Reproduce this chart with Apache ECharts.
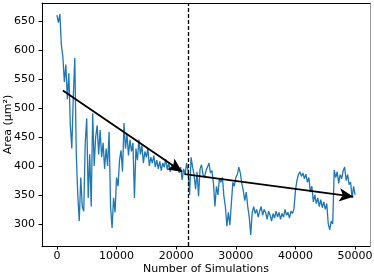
<!DOCTYPE html>
<html>
<head>
<meta charset="utf-8">
<script src="https://cdn.jsdelivr.net/npm/echarts@6/dist/echarts.min.js"></script>
<style>html,body{margin:0;padding:0;background:#fff}#c{width:374px;height:277px}</style>
</head>
<body>
<div id="c"></div>
<script>
const xStart = 0;
const xStep = 250;
const areaValues = [
660,647,662,608,588,545,575,515,560,470,
430,520,586,420,350,305,380,330,322,440,
482,345,420,330,491,400,450,470,420,462,
415,440,395,430,400,459,330,293,345,320,
380,365,410,427,390,474,430,455,418,445,
425,440,345,430,410,445,420,435,405,425,
415,430,400,415,405,418,398,410,395,408,
392,405,398,412,394,405,390,402,396,408,
392,400,388,398,376,395,385,405,392,350,
415,398,385,360,390,348,395,402,385,380,
392,398,405,388,392,370,330,365,350,378,
372,380,348,330,296,320,298,335,372,365,
380,385,398,388,370,358,340,355,330,312,
281,320,330,318,325,312,322,330,315,325,
320,308,322,315,305,318,310,322,312,320,
308,318,312,325,315,320,310,322,318,326,
358,375,385,390,382,388,378,386,372,380,
355,365,338,350,335,345,330,342,328,338,
325,335,300,290,305,300,393,380,390,370,
385,378,392,398,375,385,368,372,345,365,
350
];
const xTicks = [0, 10000, 20000, 30000, 40000, 50000];
const yTicks = [300, 350, 400, 450, 500, 550, 600, 650];
const splitX = 22000;
const arrow1 = [[1000, 530], [21000, 390]];
const arrow2 = [[21400, 386], [49700, 347]];

const seriesData = areaValues.map((v, i) => [xStart + i * xStep, v]);
const font = 'DejaVu Sans';
const chart = echarts.init(document.getElementById('c'), null, {renderer: 'canvas'});
chart.setOption({
  animation: false,
  grid: {left: 42, right: 4, top: 3, bottom: 31, containLabel: false, outerBoundsMode: 'none'},
  xAxis: [{
    type: 'value', min: -2500, max: 52500,
    name: 'Number of Simulations', nameLocation: 'middle', nameGap: 18, nameMoveOverlap: false,
    nameTextStyle: {fontFamily: font, fontSize: 11, color: '#000', verticalAlign: 'top'},
    axisLine: {show: true, onZero: false, lineStyle: {color: '#000', width: 1}},
    axisTick: {show: true, inside: false, length: 3.5, customValues: xTicks, lineStyle: {color: '#000'}},
    axisLabel: {customValues: xTicks, fontFamily: font, fontSize: 11, color: '#000', margin: 5,
      formatter: v => String(v)},
    splitLine: {show: false}
  }, {
    type: 'value', position: 'top', min: -2500, max: 52500,
    axisLine: {show: true, onZero: false, lineStyle: {color: '#000', width: 1}},
    axisTick: {show: false}, axisLabel: {show: false}, splitLine: {show: false}
  }],
  yAxis: [{
    type: 'value', min: 262, max: 681,
    name: 'Area (μm²)', nameLocation: 'middle', nameGap: 28, nameMoveOverlap: false,
    nameTextStyle: {fontFamily: font, fontSize: 11, color: '#000'},
    axisLine: {show: true, onZero: false, lineStyle: {color: '#000', width: 1}},
    axisTick: {show: true, inside: false, length: 3.5, customValues: yTicks, lineStyle: {color: '#000'}},
    axisLabel: {customValues: yTicks, fontFamily: font, fontSize: 11, color: '#000', margin: 7,
      formatter: v => String(v)},
    splitLine: {show: false}
  }, {
    type: 'value', position: 'right', min: 262, max: 681,
    axisLine: {show: true, onZero: false, lineStyle: {color: '#999', width: 1}},
    axisTick: {show: false}, axisLabel: {show: false}, splitLine: {show: false}
  }],
  series: [{
    type: 'line', data: seriesData, showSymbol: false, symbol: 'none',
    lineStyle: {color: '#1f77b4', width: 1.3}, itemStyle: {color: '#1f77b4'},
    markLine: {
      silent: true, animation: false,
      label: {show: false},
      symbol: ['none', 'none'],
      data: [[
        {xAxis: splitX, yAxis: 262, lineStyle: {color: '#000', type: [4, 2], width: 1.3}},
        {xAxis: splitX, yAxis: 681}
      ]]
    },
    z: 2
  }, {
    type: 'line', data: [], silent: true,
    markLine: {
      silent: true, animation: false,
      label: {show: false},
      symbol: ['none', 'arrow'], symbolSize: [10, 14],
      lineStyle: {color: '#000', type: 'solid', width: 1.8},
      data: [
        [{coord: arrow1[0]}, {coord: arrow1[1]}],
        [{coord: arrow2[0]}, {coord: arrow2[1]}]
      ]
    },
    z: 3
  }]
});
</script>
</body>
</html>
